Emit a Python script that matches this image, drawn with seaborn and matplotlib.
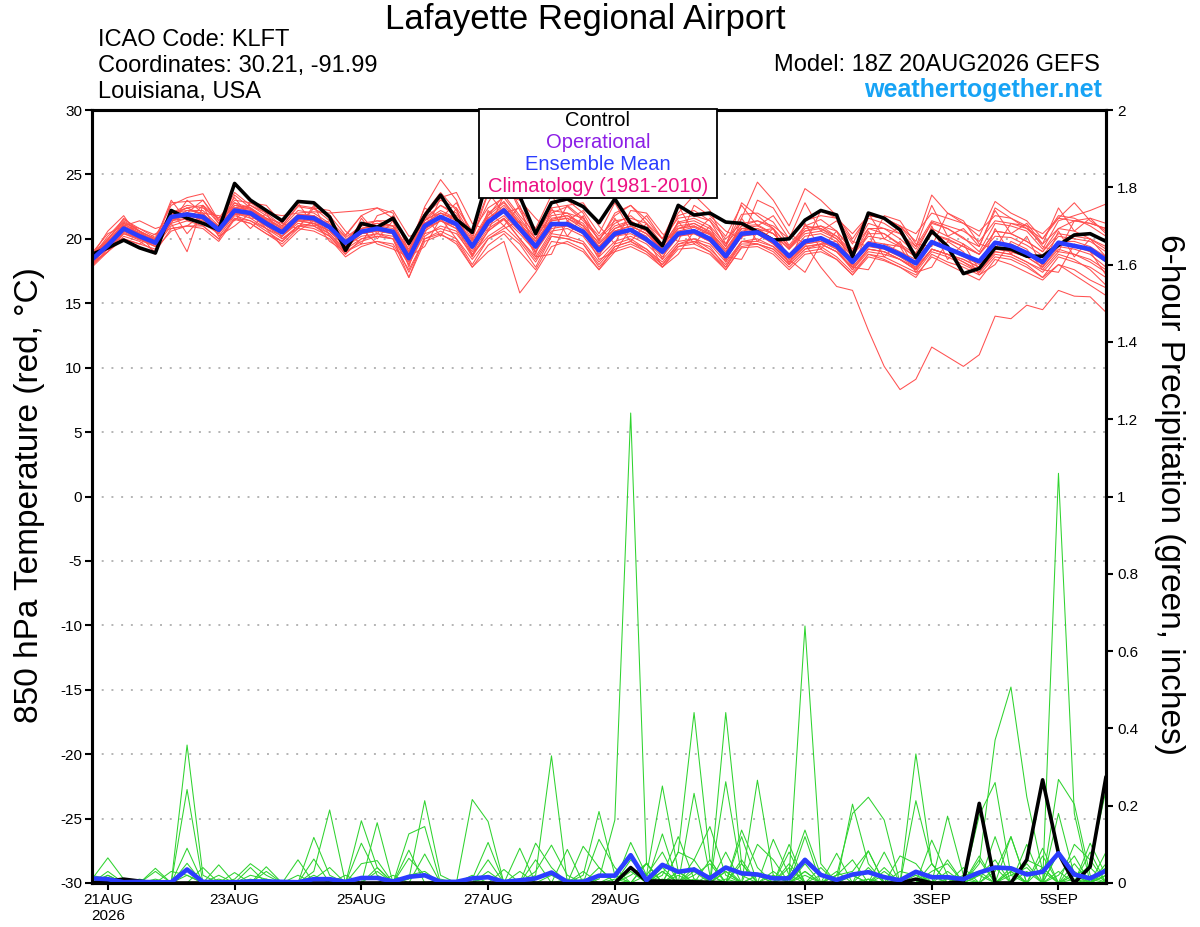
import numpy as np
import pandas as pd
import matplotlib
matplotlib.use("Agg")
import matplotlib.pyplot as plt
import seaborn as sns
from matplotlib.patches import Rectangle
from matplotlib.ticker import FuncFormatter

# 6-hourly steps from 18Z 20AUG2026
steps = list(range(65))
tick_steps = [1, 9, 17, 25, 33, 45, 53, 61]
tick_labels = ["21AUG\n2026", "23AUG", "25AUG", "27AUG", "29AUG", "1SEP", "3SEP", "5SEP"]

control_t = [18.8, 19.3, 19.9, 19.3, 18.9, 22.2, 21.6, 21.2, 20.7, 24.3, 23.0, 22.2, 21.4,
             22.9, 22.8, 21.7, 19.1, 21.2, 20.9, 21.6, 19.65, 21.8, 23.4, 21.5, 20.5, 24.8,
             24.2, 23.3, 20.4, 22.8, 23.1, 22.5, 21.25, 23.1, 21.2, 20.8, 19.45, 22.6, 21.85,
             22.0, 21.3, 21.2, 20.55, 19.9, 20.0, 21.45, 22.2, 21.85, 18.6, 22.0, 21.6, 20.7,
             18.55, 20.6, 19.4, 17.3, 17.7, 19.3, 19.2, 18.65, 18.65, 19.5, 20.3, 20.4, 19.8]

mean_t = [18.4, 19.5, 20.8, 20.2, 19.7, 21.7, 21.9, 21.7, 20.7, 22.2, 22.0, 21.2, 20.5,
          21.7, 21.6, 20.9, 19.7, 20.55, 20.8, 20.55, 18.5, 21.0, 21.7, 21.15, 19.4, 21.3,
          22.2, 20.8, 19.4, 21.15, 21.15, 20.55, 19.1, 20.4, 20.7, 19.95, 19.0, 20.4, 20.6,
          20.0, 18.65, 20.4, 20.5, 19.85, 18.65, 19.8, 20.05, 19.45, 18.2, 19.6, 19.35, 18.8,
          18.1, 19.75, 19.25, 18.75, 18.25, 19.7, 19.45, 18.9, 18.2, 19.7, 19.45, 19.2, 18.35]

members_t = [
    [18.6, 20.2, 21.5, 20.8, 20.1, 22.6, 23.2, 23.5, 21.4, 23.0, 22.8, 22.0, 21.0,
     22.5, 22.3, 21.8, 20.3, 21.8, 22.4, 22.0, 19.0, 22.5, 24.6, 23.0, 20.0, 23.5,
     24.7, 22.5, 20.3, 22.8, 23.0, 22.0, 19.8, 22.0, 22.6, 21.5, 20.0, 22.0, 23.4,
     22.2, 19.6, 21.9, 22.0, 21.3, 19.5, 21.0, 21.5, 20.6, 19.0, 21.2, 20.8, 20.0,
     18.9, 21.3, 20.8, 20.1, 19.0, 21.2, 21.0, 20.6, 19.2, 21.4, 21.8, 22.2, 22.7],
    [18.0, 19.0, 20.2, 19.8, 19.0, 20.8, 21.0, 20.8, 19.8, 21.5, 21.2, 20.4, 19.6,
     20.8, 20.6, 20.0, 18.6, 19.4, 19.8, 19.4, 17.0, 19.8, 20.3, 19.8, 17.8, 19.5,
     20.4, 19.0, 17.6, 19.8, 19.6, 19.0, 17.6, 19.0, 19.4, 18.8, 17.8, 19.2, 19.3,
     18.8, 17.6, 19.3, 19.4, 18.8, 17.6, 18.8, 19.0, 18.4, 17.2, 18.6, 18.3, 17.8,
     17.0, 18.8, 18.2, 17.8, 17.2, 18.6, 18.4, 17.8, 17.0, 18.6, 18.2, 17.8, 17.0],
    [18.5, 19.6, 21.0, 20.5, 19.8, 21.5, 22.2, 22.0, 20.8, 22.6, 22.3, 21.5, 20.8,
     21.9, 21.8, 21.0, 19.5, 20.8, 21.2, 21.0, 18.8, 21.5, 22.0, 21.5, 19.6, 21.6,
     22.6, 21.2, 19.8, 21.5, 21.8, 21.0, 19.4, 20.6, 21.0, 20.4, 19.0, 20.6, 20.9,
     20.3, 18.8, 20.6, 20.8, 20.0, 18.6, 19.6, 17.8, 16.3, 16.0, 12.9, 10.1, 8.3,
     9.1, 11.6, 10.85, 10.1, 11.0, 14.0, 13.8, 14.85, 14.5, 16.0, 15.55, 15.5, 14.3],
    [18.3, 19.8, 21.2, 20.8, 20.3, 22.0, 22.6, 22.4, 21.6, 22.4, 22.6, 22.0, 21.8,
     22.0, 22.1, 22.0, 22.1, 22.2, 22.4, 21.6, 19.6, 21.8, 23.0, 22.4, 20.6, 22.4,
     23.2, 21.6, 20.0, 22.0, 22.5, 21.4, 20.0, 21.2, 21.8, 20.8, 19.4, 21.3, 21.6,
     21.0, 19.6, 21.0, 21.4, 20.8, 19.4, 20.6, 20.8, 20.2, 18.8, 20.4, 20.4, 19.6,
     18.8, 20.4, 20.0, 19.4, 18.8, 20.6, 20.4, 19.8, 19.0, 20.4, 20.2, 20.0, 19.2],
    [17.9, 19.2, 20.4, 19.9, 19.4, 21.2, 19.0, 22.6, 20.2, 21.8, 21.4, 20.8, 20.0,
     21.0, 21.2, 20.4, 19.0, 19.8, 20.2, 20.0, 17.0, 20.2, 21.0, 20.6, 18.6, 20.6,
     21.5, 20.0, 18.4, 20.4, 20.2, 19.8, 18.2, 19.6, 20.0, 19.2, 18.2, 19.6, 20.0,
     19.2, 18.0, 19.8, 19.6, 19.2, 18.0, 19.2, 19.4, 18.6, 17.4, 18.8, 18.6, 18.0,
     17.4, 19.0, 18.6, 18.0, 17.4, 19.0, 18.8, 18.2, 17.6, 19.0, 18.8, 18.4, 17.6],
    [18.7, 19.9, 21.6, 20.6, 19.9, 22.8, 22.9, 23.0, 21.2, 23.6, 22.6, 21.8, 21.0,
     22.6, 22.4, 21.4, 19.8, 21.2, 21.4, 21.4, 18.8, 22.0, 23.6, 22.2, 20.2, 22.8,
     24.8, 22.2, 20.0, 22.4, 22.6, 21.6, 19.9, 21.8, 22.6, 21.2, 19.6, 21.8, 22.2,
     21.4, 19.4, 22.8, 21.8, 20.8, 19.3, 21.0, 20.8, 20.0, 18.6, 20.8, 20.4, 19.5,
     18.6, 20.8, 20.2, 19.6, 18.8, 20.6, 20.4, 19.8, 19.0, 20.8, 20.6, 20.0, 19.4],
    [18.2, 19.3, 20.6, 20.0, 19.5, 21.4, 21.6, 21.2, 20.4, 21.9, 21.8, 21.0, 20.2,
     21.2, 21.0, 20.4, 19.2, 20.0, 20.2, 20.0, 18.0, 20.4, 20.8, 20.4, 18.8, 20.2,
     21.0, 19.8, 18.2, 20.2, 20.0, 19.6, 17.8, 19.2, 19.6, 19.0, 17.8, 19.4, 19.6,
     19.0, 17.6, 19.4, 19.6, 19.0, 17.8, 19.0, 19.2, 18.4, 17.2, 18.8, 18.4, 17.8,
     17.2, 18.6, 18.0, 17.4, 16.8, 18.4, 18.0, 17.4, 16.8, 18.0, 17.6, 16.8, 16.2],
    [18.6, 19.7, 20.9, 20.4, 19.9, 21.9, 22.4, 21.9, 20.9, 22.4, 22.3, 21.4, 20.7,
     21.9, 21.8, 21.1, 19.9, 21.0, 21.2, 21.0, 19.0, 21.4, 22.2, 21.6, 19.8, 21.8,
     22.8, 21.2, 19.8, 21.6, 21.8, 21.2, 19.6, 20.8, 21.2, 20.6, 19.5, 21.2, 21.4,
     20.8, 19.4, 21.6, 24.4, 23.0, 21.0, 23.9, 23.0, 21.8, 20.0, 21.8, 21.6, 21.0,
     19.8, 23.4, 22.0, 21.2, 20.2, 22.9, 22.0, 21.4, 20.0, 21.6, 22.8, 21.4, 20.6],
    [18.5, 19.8, 21.1, 20.6, 20.0, 22.0, 22.2, 22.2, 21.0, 22.8, 22.4, 21.6, 20.9,
     22.2, 22.0, 21.2, 20.1, 21.0, 21.4, 21.0, 19.2, 21.6, 22.6, 22.0, 19.9, 22.0,
     22.9, 21.4, 20.0, 21.8, 22.0, 21.0, 19.7, 21.0, 21.4, 20.6, 19.6, 20.8, 21.2,
     20.5, 19.2, 21.0, 21.1, 20.4, 19.2, 20.4, 20.6, 20.0, 18.7, 20.2, 20.0, 19.4,
     18.6, 20.4, 19.9, 19.4, 18.8, 20.2, 20.1, 19.5, 18.7, 20.2, 20.0, 19.8, 19.0],
    [18.3, 19.2, 20.5, 20.0, 19.4, 21.0, 21.4, 21.0, 20.0, 21.6, 21.2, 20.4, 19.8,
     21.0, 20.8, 20.2, 19.0, 19.6, 19.8, 19.6, 17.6, 20.0, 20.4, 19.6, 17.8, 19.0,
     19.8, 15.8, 17.4, 19.4, 19.8, 19.2, 17.6, 19.4, 19.8, 19.0, 18.0, 19.4, 19.8,
     19.0, 17.8, 19.6, 19.6, 19.2, 18.0, 19.2, 19.6, 19.0, 17.8, 19.2, 19.0, 18.4,
     17.8, 19.2, 18.8, 18.4, 17.8, 19.2, 19.0, 18.6, 17.8, 19.2, 18.8, 18.2, 17.4],
    [18.8, 20.0, 21.3, 20.6, 20.0, 21.8, 22.4, 22.6, 21.2, 22.6, 22.4, 21.6, 20.8,
     21.8, 21.6, 21.0, 19.8, 20.8, 21.0, 21.0, 18.4, 21.2, 22.0, 21.6, 19.6, 21.8,
     23.4, 21.8, 20.4, 22.2, 22.0, 21.6, 20.2, 21.4, 21.6, 21.2, 20.0, 21.6, 21.8,
     21.4, 20.0, 21.2, 21.4, 21.0, 20.0, 21.4, 21.8, 21.6, 20.4, 21.8, 21.6, 21.0,
     20.4, 22.0, 21.6, 21.2, 20.6, 21.8, 21.6, 21.0, 20.4, 21.6, 21.4, 21.2, 20.8],
    [18.1, 19.0, 20.0, 19.6, 19.2, 20.6, 21.0, 21.0, 20.0, 21.6, 21.4, 20.6, 19.8,
     21.0, 21.0, 20.2, 18.8, 20.0, 20.4, 20.0, 17.4, 20.0, 20.6, 20.0, 18.0, 20.0,
     20.6, 19.6, 17.8, 20.2, 20.0, 19.6, 18.0, 19.4, 19.8, 19.2, 18.0, 19.6, 19.8,
     19.4, 17.8, 19.8, 20.0, 19.4, 18.2, 19.4, 19.6, 19.0, 17.6, 19.0, 18.8, 18.4,
     17.6, 19.2, 18.8, 18.2, 17.6, 19.0, 18.8, 18.2, 17.4, 18.8, 18.4, 17.6, 16.4],
    [18.4, 19.6, 20.9, 20.2, 19.8, 22.0, 22.4, 21.8, 20.4, 23.4, 22.4, 21.4, 20.6,
     21.8, 21.8, 21.0, 19.6, 20.6, 20.8, 20.6, 18.6, 21.0, 21.8, 21.2, 19.2, 21.2,
     22.2, 20.8, 19.2, 21.0, 21.0, 20.4, 19.0, 20.2, 20.6, 19.8, 18.8, 20.2, 20.4,
     19.8, 18.4, 20.2, 20.4, 19.6, 18.4, 19.6, 19.8, 19.2, 18.0, 19.4, 19.2, 18.6,
     17.8, 19.6, 19.2, 18.6, 18.0, 19.6, 19.4, 18.8, 18.0, 19.6, 19.4, 19.0, 18.2],
    [18.6, 20.0, 21.4, 20.6, 19.6, 21.6, 22.0, 23.0, 21.4, 22.8, 22.0, 21.0, 20.2,
     21.4, 21.4, 20.6, 19.4, 20.4, 20.6, 20.4, 18.2, 21.4, 22.6, 21.8, 19.4, 21.4,
     22.4, 21.0, 19.6, 21.4, 21.6, 20.8, 19.4, 20.8, 21.4, 20.6, 19.2, 20.8, 21.0,
     20.4, 19.0, 20.8, 20.6, 20.0, 18.8, 20.2, 20.4, 19.8, 18.4, 19.8, 19.6, 19.0,
     18.4, 19.8, 19.4, 18.8, 18.2, 19.8, 19.6, 19.0, 18.2, 19.8, 19.8, 19.4, 18.6],
    [17.8, 19.0, 20.4, 20.0, 19.6, 21.4, 21.8, 21.6, 20.8, 22.0, 21.8, 21.0, 20.2,
     21.4, 21.2, 20.6, 19.4, 20.2, 20.4, 20.2, 18.0, 20.6, 21.4, 20.8, 19.0, 20.8,
     21.6, 20.4, 19.0, 21.0, 21.2, 20.6, 19.2, 20.6, 21.0, 20.4, 19.4, 21.0, 21.2,
     20.6, 19.2, 20.8, 20.8, 20.4, 19.2, 20.6, 21.0, 20.6, 19.2, 20.8, 20.8, 20.4,
     19.4, 21.4, 21.0, 20.6, 19.8, 21.4, 21.2, 20.8, 20.0, 21.8, 21.6, 21.0, 20.2],
    [18.4, 19.4, 20.6, 20.2, 19.6, 21.2, 21.6, 21.4, 20.6, 22.0, 21.6, 20.8, 20.2,
     21.4, 21.2, 20.6, 19.4, 20.4, 20.6, 20.4, 18.2, 20.8, 21.4, 20.8, 18.8, 20.6,
     21.6, 20.0, 18.6, 20.6, 20.8, 20.2, 18.6, 19.8, 20.2, 19.6, 18.4, 19.8, 20.0,
     19.6, 18.2, 19.8, 19.8, 19.4, 18.2, 19.4, 19.6, 19.0, 17.8, 19.2, 19.0, 18.4,
     17.6, 19.2, 18.8, 18.4, 17.8, 19.4, 19.0, 18.6, 17.8, 19.4, 19.2, 18.8, 17.8],
    [18.6, 19.8, 21.0, 20.4, 19.8, 21.8, 22.0, 21.8, 20.8, 22.4, 22.2, 21.4, 20.6,
     21.8, 21.6, 21.0, 19.8, 20.8, 21.0, 20.8, 18.8, 21.2, 22.0, 21.4, 19.6, 21.6,
     22.4, 21.2, 19.6, 21.4, 21.6, 21.0, 19.4, 20.6, 21.0, 20.4, 19.2, 20.8, 21.0,
     20.4, 19.0, 20.8, 21.0, 20.4, 19.2, 20.8, 21.0, 20.2, 19.0, 21.6, 21.2, 20.4,
     19.2, 21.2, 20.8, 20.0, 19.4, 22.4, 21.6, 20.8, 19.6, 20.8, 21.4, 21.6, 21.2],
    [18.3, 19.5, 20.7, 20.1, 19.6, 21.5, 21.8, 21.5, 20.5, 22.0, 21.9, 21.1, 20.4,
     21.5, 21.4, 20.8, 19.6, 20.4, 20.7, 20.4, 18.4, 20.8, 21.4, 21.0, 19.2, 21.0,
     21.8, 20.6, 19.0, 20.8, 21.0, 20.4, 18.8, 20.2, 20.4, 19.8, 18.6, 20.2, 20.4,
     19.8, 18.4, 20.2, 20.4, 19.6, 18.2, 19.6, 19.8, 19.2, 17.6, 19.2, 19.0, 18.4,
     17.6, 19.2, 18.8, 18.2, 17.4, 18.8, 18.6, 18.0, 17.0, 18.0, 17.2, 16.4, 15.6],
    [18.9, 20.4, 21.0, 21.4, 20.8, 21.2, 23.0, 22.0, 21.8, 21.4, 22.8, 22.6, 21.2,
     20.8, 22.4, 22.2, 20.6, 19.6, 21.8, 22.2, 20.2, 20.4, 23.2, 23.6, 21.2, 20.6,
     23.4, 23.0, 21.6, 20.4, 22.6, 22.8, 21.0, 19.6, 22.2, 22.0, 20.4, 19.8, 22.6,
     21.8, 20.6, 20.0, 23.0, 22.4, 20.4, 19.6, 22.2, 21.6, 19.8, 19.4, 21.8, 21.4,
     19.6, 19.4, 22.0, 21.4, 19.6, 19.2, 21.2, 21.0, 19.4, 19.0, 21.4, 21.2, 20.8],
    [17.9, 19.8, 20.0, 19.6, 20.4, 20.8, 21.0, 21.9, 20.2, 21.0, 22.0, 20.8, 19.4,
     20.6, 21.4, 19.8, 19.0, 20.8, 19.6, 19.2, 18.6, 19.4, 21.6, 20.0, 18.4, 20.0,
     20.8, 21.4, 18.6, 18.8, 21.4, 20.6, 18.4, 19.0, 20.8, 20.2, 17.8, 18.8, 20.6,
     20.4, 18.6, 18.4, 20.6, 20.8, 18.4, 17.4, 19.6, 19.8, 17.8, 17.6, 19.6, 19.4,
     17.4, 17.8, 19.8, 19.0, 17.2, 18.0, 19.8, 19.2, 17.6, 17.4, 19.6, 19.0, 17.2],
    [18.2, 19.0, 21.2, 20.4, 18.8, 22.2, 20.4, 21.8, 21.0, 22.0, 20.8, 22.0, 20.0,
     20.8, 22.6, 20.2, 18.8, 21.6, 20.0, 21.4, 17.8, 21.8, 20.2, 22.4, 18.6, 22.2,
     21.0, 22.6, 18.8, 22.4, 20.2, 21.8, 18.6, 21.6, 19.8, 21.2, 18.4, 21.4, 19.6,
     21.0, 18.2, 21.6, 19.8, 20.8, 18.0, 21.2, 19.2, 20.6, 17.8, 20.6, 18.6, 19.8,
     17.6, 21.0, 18.4, 19.6, 17.6, 20.8, 18.8, 20.2, 17.8, 20.6, 18.6, 20.0, 18.6],
    [18.7, 20.6, 21.8, 20.0, 19.9, 23.0, 21.4, 22.6, 21.6, 23.2, 21.6, 21.6, 21.2,
     22.8, 21.0, 21.4, 20.2, 21.8, 20.4, 21.8, 19.4, 22.4, 21.6, 22.8, 20.4, 23.6,
     22.0, 22.4, 20.8, 23.4, 21.4, 22.2, 20.4, 22.8, 20.6, 21.8, 20.0, 22.6, 20.4,
     21.6, 20.2, 22.6, 21.0, 21.8, 20.0, 22.8, 20.6, 21.4, 19.6, 22.0, 20.0, 21.0,
     19.4, 22.6, 20.2, 20.8, 19.4, 22.2, 20.4, 21.2, 19.6, 22.4, 20.6, 21.6, 20.4],
]

control_p = [0, 0.005, 0.01, 0.005, 0, 0, 0, 0, 0, 0, 0, 0, 0,
             0, 0, 0, 0, 0, 0, 0, 0, 0, 0, 0, 0, 0,
             0, 0, 0, 0, 0, 0, 0, 0, 0.04, 0.005, 0.005, 0.004, 0.003,
             0.002, 0, 0, 0, 0, 0, 0, 0, 0, 0, 0, 0, 0,
             0.01, 0, 0, 0.004, 0.206, 0, 0, 0.06, 0.267, 0.077, 0, 0.042, 0.275]

mean_p = [0.012, 0.01, 0.002, 0.003, 0.002, 0.002, 0.035, 0.003, 0.002, 0.002, 0.004, 0.004, 0.003,
          0.002, 0.01, 0.01, 0.003, 0.013, 0.013, 0.004, 0.016, 0.02, 0.003, 0.003, 0.012, 0.015,
          0.003, 0.007, 0.012, 0.027, 0.003, 0.003, 0.019, 0.019, 0.072, 0.007, 0.047, 0.029, 0.035,
          0.012, 0.04, 0.025, 0.022, 0.012, 0.012, 0.06, 0.021, 0.008, 0.022, 0.028, 0.015, 0.007,
          0.029, 0.015, 0.015, 0.01, 0.027, 0.04, 0.038, 0.022, 0.029, 0.077, 0.022, 0.012, 0.032]

members_p = [
    [0.01, 0.065, 0.01, 0, 0, 0, 0.357, 0.02, 0, 0, 0, 0, 0,
     0, 0, 0, 0, 0, 0, 0, 0.01, 0.213, 0.02, 0, 0, 0,
     0, 0, 0, 0, 0, 0, 0.01, 0.163, 1.216, 0.05, 0, 0.02, 0,
     0, 0.01, 0, 0, 0, 0.02, 0.137, 0.02, 0, 0, 0.01, 0, 0,
     0, 0, 0.01, 0, 0.05, 0.37, 0.507, 0.223, 0.03, 0, 0.01, 0, 0.02],
    [0, 0.02, 0, 0, 0.01, 0, 0.242, 0, 0, 0, 0.01, 0, 0,
     0, 0.03, 0.189, 0, 0, 0, 0, 0, 0, 0, 0, 0.01, 0,
     0, 0, 0.02, 0.329, 0, 0, 0, 0, 0.02, 0.05, 0, 0.08, 0.441,
     0.06, 0, 0, 0.02, 0, 0, 0.03, 0, 0, 0.204, 0.05, 0, 0.01,
     0, 0.02, 0, 0, 0.02, 0, 0.04, 0, 0, 1.06, 0.18, 0, 0.02],
    [0, 0.03, 0, 0, 0, 0, 0.09, 0, 0, 0, 0, 0.01, 0,
     0, 0, 0, 0, 0.161, 0.04, 0, 0, 0, 0, 0, 0.216, 0.159,
     0, 0, 0, 0, 0.01, 0, 0, 0, 0, 0.02, 0.251, 0.03, 0,
     0, 0.441, 0.05, 0, 0, 0, 0.02, 0, 0, 0, 0.01, 0, 0,
     0.334, 0.05, 0, 0, 0, 0.03, 0.12, 0, 0, 0, 0.02, 0, 0],
    [0, 0, 0, 0, 0.038, 0, 0.051, 0, 0, 0, 0, 0, 0,
     0, 0, 0, 0, 0, 0.156, 0, 0, 0, 0, 0, 0.01, 0.105,
     0, 0, 0, 0, 0, 0.02, 0.185, 0.02, 0, 0, 0, 0, 0.01,
     0, 0, 0, 0, 0, 0.02, 0.665, 0.05, 0, 0, 0, 0.02, 0,
     0, 0, 0, 0, 0.175, 0.26, 0.02, 0, 0, 0.03, 0, 0.05, 0.24],
    [0, 0, 0, 0, 0, 0, 0, 0, 0, 0.01, 0.05, 0.02, 0,
     0, 0.118, 0.02, 0, 0, 0, 0, 0.127, 0.146, 0, 0, 0, 0,
     0, 0, 0.03, 0.098, 0.02, 0, 0, 0, 0, 0, 0.01, 0, 0.03,
     0, 0.262, 0.02, 0, 0, 0, 0.03, 0, 0.02, 0.18, 0.222, 0.163, 0,
     0, 0, 0, 0.01, 0, 0, 0.03, 0, 0.09, 0, 0, 0.01, 0],
    [0, 0, 0, 0, 0, 0, 0, 0, 0, 0, 0, 0.042, 0,
     0, 0, 0, 0, 0.103, 0.02, 0, 0, 0.075, 0, 0, 0, 0,
     0, 0, 0.103, 0.04, 0, 0, 0, 0.01, 0, 0, 0.127, 0, 0.232,
     0.02, 0, 0, 0.266, 0.02, 0, 0, 0, 0, 0.02, 0, 0, 0,
     0.213, 0.05, 0, 0, 0, 0, 0, 0, 0, 0.268, 0.204, 0.02, 0],
    [0, 0, 0, 0, 0, 0, 0, 0.04, 0, 0, 0, 0, 0,
     0.06, 0, 0, 0, 0, 0, 0, 0, 0, 0, 0, 0, 0.06,
     0, 0.09, 0, 0, 0, 0, 0, 0.02, 0, 0, 0.02, 0.12, 0.01,
     0, 0, 0.137, 0.04, 0, 0, 0, 0, 0.077, 0, 0, 0.08, 0,
     0, 0, 0.173, 0.02, 0, 0, 0, 0.06, 0.04, 0, 0, 0.08, 0],
    [0, 0, 0, 0, 0, 0, 0, 0, 0.047, 0, 0, 0, 0,
     0, 0.062, 0, 0, 0, 0, 0, 0.085, 0, 0, 0, 0, 0,
     0, 0, 0, 0, 0, 0, 0.113, 0.04, 0, 0, 0.03, 0, 0.06,
     0.146, 0.02, 0, 0, 0.113, 0.02, 0, 0, 0.02, 0.03, 0.083, 0, 0,
     0, 0.111, 0.02, 0, 0, 0, 0, 0.03, 0, 0.18, 0.02, 0, 0],
    [0, 0.02, 0, 0, 0.03, 0, 0, 0, 0, 0, 0, 0, 0,
     0, 0, 0, 0, 0.05, 0.058, 0, 0, 0, 0, 0, 0, 0,
     0, 0, 0, 0, 0, 0.095, 0.04, 0, 0, 0, 0, 0, 0,
     0, 0.08, 0, 0, 0, 0.1, 0, 0, 0, 0, 0.083, 0, 0,
     0, 0, 0, 0, 0.07, 0, 0, 0.1, 0, 0, 0, 0.103, 0.02],
    [0, 0, 0, 0, 0, 0, 0, 0, 0, 0, 0.04, 0, 0,
     0, 0.02, 0, 0, 0, 0, 0, 0.064, 0.02, 0, 0, 0, 0,
     0, 0, 0, 0, 0.087, 0, 0, 0, 0.105, 0.02, 0, 0.08, 0.06,
     0, 0, 0.12, 0, 0, 0, 0.12, 0, 0, 0, 0, 0, 0,
     0, 0.05, 0, 0, 0, 0.12, 0, 0, 0, 0.08, 0, 0, 0.08],
    [0, 0, 0, 0, 0, 0, 0, 0, 0, 0, 0, 0.03, 0,
     0, 0, 0, 0, 0, 0.04, 0, 0, 0, 0, 0, 0, 0,
     0.035, 0, 0.06, 0, 0, 0, 0, 0, 0, 0.052, 0, 0, 0,
     0.06, 0, 0, 0.1, 0.06, 0, 0, 0, 0, 0, 0, 0, 0.07,
     0.05, 0, 0, 0.04, 0, 0, 0, 0, 0, 0.08, 0, 0, 0],
    [0, 0, 0, 0, 0, 0, 0, 0, 0, 0.027, 0, 0, 0,
     0.02, 0, 0, 0, 0, 0, 0, 0, 0, 0, 0, 0, 0.02,
     0, 0, 0, 0, 0, 0, 0, 0, 0, 0, 0.04, 0, 0,
     0, 0.03, 0, 0, 0, 0.08, 0, 0.04, 0, 0, 0, 0, 0,
     0, 0.02, 0, 0, 0, 0, 0.12, 0, 0, 0, 0.1, 0.06, 0],
    [0.02, 0.01, 0, 0, 0, 0, 0, 0, 0, 0, 0, 0, 0,
     0, 0, 0, 0, 0, 0, 0, 0, 0, 0, 0, 0, 0,
     0, 0, 0, 0, 0, 0, 0, 0, 0, 0, 0, 0.03, 0,
     0.02, 0, 0.05, 0, 0.02, 0, 0, 0, 0.03, 0, 0, 0.04, 0,
     0.03, 0, 0.06, 0, 0, 0.04, 0, 0, 0.04, 0, 0.05, 0, 0.03],
    [0, 0, 0, 0, 0, 0, 0.02, 0, 0, 0, 0.02, 0.01, 0,
     0, 0, 0, 0, 0, 0, 0, 0.02, 0.03, 0, 0, 0, 0,
     0, 0, 0, 0, 0, 0.01, 0, 0, 0.03, 0, 0.03, 0, 0.04,
     0, 0.04, 0, 0, 0, 0.05, 0, 0, 0, 0.02, 0, 0, 0,
     0.02, 0, 0, 0.02, 0.03, 0, 0.02, 0.04, 0, 0, 0.03, 0, 0.05],
    [0, 0, 0.01, 0, 0, 0.03, 0.02, 0, 0.01, 0, 0, 0, 0,
     0, 0.01, 0.04, 0, 0, 0, 0.02, 0, 0, 0.01, 0, 0, 0.03,
     0, 0, 0, 0.02, 0, 0.03, 0, 0, 0.06, 0.02, 0.08, 0, 0.02,
     0.05, 0, 0.06, 0, 0.03, 0, 0.05, 0, 0.02, 0.06, 0, 0.03, 0,
     0, 0.03, 0.05, 0, 0.02, 0.06, 0, 0.05, 0, 0.02, 0.07, 0, 0.04],
    [0, 0, 0, 0.01, 0, 0, 0, 0, 0.02, 0, 0, 0, 0,
     0, 0, 0, 0.02, 0, 0.03, 0, 0, 0, 0, 0, 0.02, 0,
     0, 0.03, 0, 0, 0, 0, 0.04, 0, 0, 0.05, 0, 0.03, 0,
     0, 0.03, 0, 0.02, 0, 0.04, 0, 0.02, 0, 0, 0.04, 0, 0.03,
     0.02, 0, 0.03, 0, 0.06, 0, 0.03, 0, 0.07, 0, 0.02, 0.04, 0],
]

for name, series in [("control_t", control_t), ("mean_t", mean_t), ("control_p", control_p), ("mean_p", mean_p)]:
    assert len(series) == len(steps), (name, len(series))
for k, row in enumerate(members_t):
    assert len(row) == len(steps), ("members_t", k, len(row))
for k, row in enumerate(members_p):
    assert len(row) == len(steps), ("members_p", k, len(row))

df_t = pd.DataFrame([(m, s, v) for m, row in enumerate(members_t) for s, v in zip(steps, row)],
                    columns=["member", "step", "value"])
df_p = pd.DataFrame([(m, s, v) for m, row in enumerate(members_p) for s, v in zip(steps, row)],
                    columns=["member", "step", "value"])

sns.set_theme(style="white")
plt.rcParams["font.family"] = ["Liberation Sans", "DejaVu Sans"]
plt.rcParams["axes.unicode_minus"] = False
plt.rcParams["text.color"] = "black"
plt.rcParams["xtick.color"] = "black"
plt.rcParams["ytick.color"] = "black"
plt.rcParams["axes.labelcolor"] = "black"

fig = plt.figure(figsize=(12, 9.27), dpi=100)
ax = fig.add_axes([92 / 1200, 1 - 883 / 927, (1106 - 92) / 1200, (883 - 110) / 927])
ax2 = ax.twinx()

RED = "#ff5050"
GREEN = "#2fd32f"
BLUE = "#2b3dff"

sns.lineplot(data=df_t, x="step", y="value", units="member", estimator=None,
             color=RED, lw=0.75, ax=ax, legend=False)
sns.lineplot(x=steps, y=control_t, color="black", lw=2.6, ax=ax)
sns.lineplot(x=steps, y=mean_t, color=BLUE, lw=3.3, ax=ax)

sns.lineplot(data=df_p, x="step", y="value", units="member", estimator=None,
             color=GREEN, lw=0.75, ax=ax2, legend=False)
sns.lineplot(x=steps, y=control_p, color="black", lw=2.6, ax=ax2)
sns.lineplot(x=steps, y=mean_p, color=BLUE, lw=3.3, ax=ax2)

ax.set_xlim(0, 64)
ax.set_ylim(-30, 30)
ax2.set_ylim(0, 2)
ax.set_yticks(np.arange(-30, 31, 5))
ax2.set_yticks(np.arange(0, 2.01, 0.2))
ax2.yaxis.set_major_formatter(FuncFormatter(lambda v, p: f"{round(v, 1):g}"))
ax.set_xticks(tick_steps)
ax.set_xticklabels(tick_labels)
ax.set_xlabel("")
ax.set_ylabel("")
ax2.set_xlabel("")
ax2.set_ylabel("")

ax.grid(True, axis="y", color="#b4b4b4", linestyle=(0, (1, 4)), linewidth=1.4)
ax.grid(False, axis="x")
ax2.grid(False)

for a in (ax, ax2):
    for sp in a.spines.values():
        sp.set_visible(True)
        sp.set_color("black")
        sp.set_linewidth(2.2)

ax.tick_params(axis="both", which="major", direction="out", length=5, width=1.5,
               labelsize=11, colors="black", pad=2, left=True, bottom=True, right=False)
ax2.tick_params(axis="y", which="major", direction="out", length=5, width=1.5,
                labelsize=11, colors="black", pad=3, right=True, left=False)
ax2.tick_params(axis="x", bottom=False, labelbottom=False)

# Header texts
fig.text(0.4875, 1 - 19 / 927, "Lafayette Regional Airport", ha="center", va="center",
         fontsize=25, color="black")
fig.text(98 / 1200, 1 - 40 / 927, "ICAO Code: KLFT", ha="left", va="center", fontsize=17, color="black")
fig.text(98 / 1200, 1 - 66 / 927, "Coordinates: 30.21, -91.99", ha="left", va="center", fontsize=17, color="black")
fig.text(98 / 1200, 1 - 92 / 927, "Louisiana, USA", ha="left", va="center", fontsize=17, color="black")
fig.text(1100 / 1200, 1 - 65 / 927, "Model: 18Z 20AUG2026 GEFS", ha="right", va="center",
         fontsize=17, color="black")
fig.text(1102 / 1200, 1 - 90 / 927, "weathertogether.net", ha="right", va="center",
         fontsize=18, fontweight="bold", color="#17a3f5")

# Axis labels
fig.text(30 / 1200, 1 - 495 / 927, "850 hPa Temperature (red, \u00b0C)", rotation=90,
         ha="center", va="center", fontsize=24, color="black")
fig.text(1170 / 1200, 1 - 495 / 927, "6-hour Precipitation (green, inches)", rotation=270,
         ha="center", va="center", fontsize=24, color="black")

# Legend box
box = Rectangle((479 / 1200, 1 - 198 / 927), (717 - 479) / 1200, (198 - 109) / 927,
                transform=fig.transFigure, facecolor="white", edgecolor="black",
                linewidth=1.3, zorder=10)
fig.add_artist(box)
legend_items = [("Control", "black", 121), ("Operational", "#8c1ee6", 143),
                ("Ensemble Mean", "#2b3dff", 164), ("Climatology (1981-2010)", "#ec1183", 186)]
for label, col, ypix in legend_items:
    fig.text(598 / 1200, 1 - ypix / 927, label, ha="center", va="center",
             fontsize=14.5, color=col, zorder=11)

fig.savefig("out.png", dpi=100)
